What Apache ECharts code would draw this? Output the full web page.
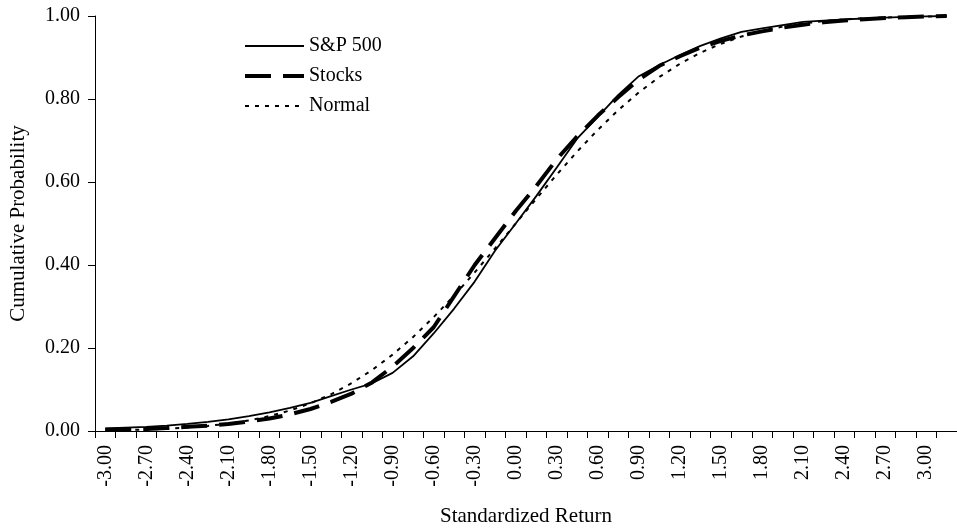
<!DOCTYPE html>
<html>
<head>
<meta charset="utf-8">
<script src="https://cdn.jsdelivr.net/npm/echarts@6/dist/echarts.min.js"></script>
<style>
html,body{margin:0;padding:0;background:#fff;}
#chart{width:957px;height:532px;}
</style>
</head>
<body>
<div id="chart"></div>
<script>
// Standardized return categories (step 0.15)
const categories = ["-3.00","-2.85","-2.70","-2.55","-2.40","-2.25","-2.10","-1.95","-1.80","-1.65",
  "-1.50","-1.35","-1.20","-1.05","-0.90","-0.75","-0.60","-0.45","-0.30","-0.15",
  "0.00","0.15","0.30","0.45","0.60","0.75","0.90","1.05","1.20","1.35",
  "1.50","1.65","1.80","1.95","2.10","2.25","2.40","2.55","2.70","2.85",
  "3.00","3.15"];

const sp500 = [0.006,0.008,0.010,0.013,0.017,0.022,0.028,0.036,0.045,0.056,
  0.068,0.084,0.100,0.115,0.140,0.180,0.235,0.295,0.360,0.435,
  0.500,0.566,0.635,0.705,0.757,0.810,0.855,0.882,0.906,0.928,
  0.946,0.962,0.970,0.978,0.986,0.989,0.992,0.994,0.996,0.998,
  0.999,1.000];

const stocks = [0.003,0.004,0.005,0.007,0.010,0.013,0.017,0.023,0.030,0.040,
  0.053,0.070,0.090,0.117,0.155,0.200,0.250,0.325,0.400,0.465,
  0.530,0.590,0.655,0.710,0.760,0.805,0.847,0.880,0.903,0.924,
  0.940,0.953,0.963,0.972,0.979,0.985,0.989,0.992,0.995,0.997,
  0.999,1.000];

const normal = [0.0013,0.0022,0.0035,0.0054,0.0082,0.0122,0.0179,0.0256,0.0359,0.0495,
  0.0668,0.0885,0.1151,0.1469,0.1841,0.2266,0.2743,0.3264,0.3821,0.4404,
  0.5000,0.5596,0.6179,0.6736,0.7257,0.7734,0.8159,0.8531,0.8849,0.9115,
  0.9332,0.9505,0.9641,0.9744,0.9821,0.9878,0.9918,0.9946,0.9965,0.9978,
  0.9987,0.9992];

const yTicks = [0, 0.2, 0.4, 0.6, 0.8, 1.0];

const FONT = "'Liberation Serif', 'Times New Roman', serif";
const styles = {
  'S&P 500': { color: '#000', width: 1.8, type: 'solid' },
  'Stocks':  { color: '#000', width: 4, type: [26, 12] },
  'Normal':  { color: '#000', width: 2, type: [4, 6] }
};
const hiddenSymbol = { color: 'rgba(0,0,0,0)', borderWidth: 0, opacity: 0 };

const chart = echarts.init(document.getElementById('chart'));
chart.setOption({
  animation: false,
  backgroundColor: '#fff',
  textStyle: { fontFamily: FONT, color: '#000' },
  grid: { left: 89, right: 0, top: 16, bottom: 99, containLabel: false },
  legend: {
    orient: 'vertical',
    left: 238,
    top: 31,
    itemWidth: 59,
    itemHeight: 14,
    itemGap: 10,
    itemStyle: hiddenSymbol,
    textStyle: { fontFamily: FONT, fontSize: 20, color: '#000' },
    data: ['S&P 500', 'Stocks', 'Normal'].map(n => ({
      name: n,
      itemStyle: hiddenSymbol,
      lineStyle: Object.assign({}, styles[n])
    }))
  },
  xAxis: {
    type: 'category',
    data: categories,
    boundaryGap: true,
    name: 'Standardized Return',
    nameLocation: 'middle',
    nameGap: 75,
    nameTextStyle: { fontFamily: FONT, fontSize: 21, color: '#000' },
    axisLine: { lineStyle: { color: '#000', width: 1 } },
    axisTick: { show: true, interval: 0, length: 7, lineStyle: { color: '#000' } },
    axisLabel: { interval: 1, rotate: 90, margin: 14, fontFamily: FONT, fontSize: 20, color: '#000' },
    splitLine: { show: false }
  },
  yAxis: {
    type: 'value',
    min: yTicks[0],
    max: yTicks[yTicks.length - 1],
    interval: 0.2,
    name: 'Cumulative Probability',
    nameLocation: 'middle',
    nameGap: 66,
    nameTextStyle: { fontFamily: FONT, fontSize: 21, color: '#000' },
    axisLine: { show: true, lineStyle: { color: '#000', width: 1 } },
    axisTick: { show: true, length: 7, lineStyle: { color: '#000' } },
    axisLabel: { margin: 15, fontFamily: FONT, fontSize: 20, color: '#000',
      formatter: v => v.toFixed(2) },
    splitLine: { show: false }
  },
  series: [
    { name: 'S&P 500', type: 'line', data: sp500, symbol: 'none', showSymbol: false,
      lineStyle: styles['S&P 500'], itemStyle: { color: '#000' } },
    { name: 'Stocks', type: 'line', data: stocks, symbol: 'none', showSymbol: false,
      lineStyle: styles['Stocks'], itemStyle: { color: '#000' } },
    { name: 'Normal', type: 'line', data: normal, symbol: 'none', showSymbol: false,
      lineStyle: styles['Normal'], itemStyle: { color: '#000' } }
  ]
});
</script>
</body>
</html>
